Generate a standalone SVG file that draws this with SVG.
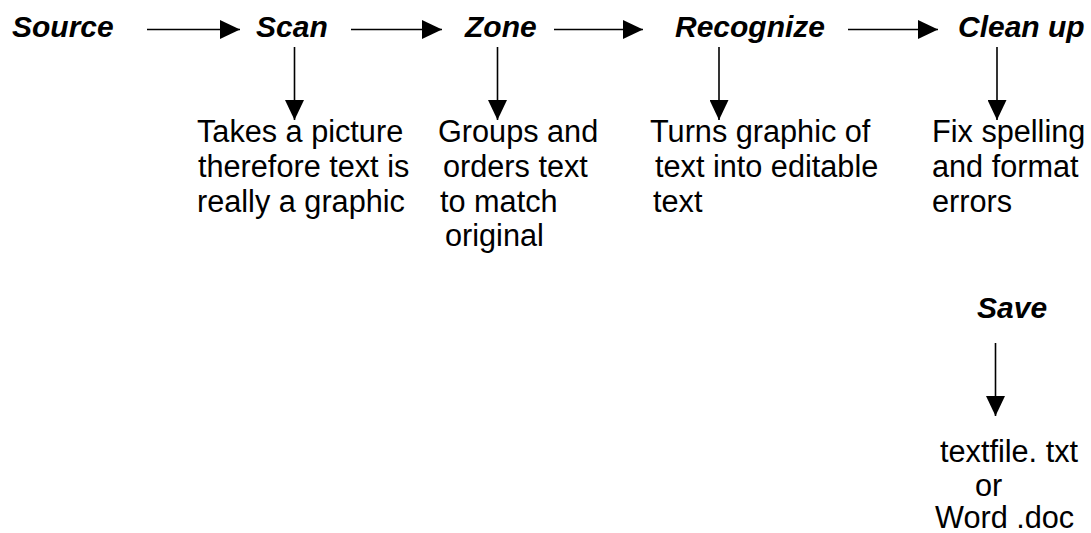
<svg xmlns="http://www.w3.org/2000/svg" width="1091" height="533" viewBox="0 0 1091 533">
  <style>
    .title { font-family: "Liberation Sans", Arial, sans-serif; font-size: 30px; font-weight: bold; font-style: italic; fill: #000; }
    .body { font-family: "Liberation Sans", Arial, sans-serif; font-size: 30.67px; fill: #000; }
    .conn { stroke: #000; stroke-width: 1.6; fill: none; marker-end: url(#arrow); }
  </style>
  <defs>
    <marker id="arrow" markerUnits="userSpaceOnUse" markerWidth="20" markerHeight="19" refX="20" refY="9.5" orient="auto" viewBox="0 0 20 19">
      <path d="M0,0 L20,9.5 L0,19 z" fill="#000"/>
    </marker>
  </defs>
  <rect width="1091" height="533" fill="#fff"/>
  <g id="connectors">
    <line class="conn" x1="147" y1="29.5" x2="240" y2="29.5"/>
    <line class="conn" x1="351" y1="29.5" x2="442" y2="29.5"/>
    <line class="conn" x1="554" y1="29.5" x2="643" y2="29.5"/>
    <line class="conn" x1="848" y1="29.5" x2="938" y2="29.5"/>
    <line class="conn" x1="294.5" y1="47" x2="294.5" y2="120"/>
    <line class="conn" x1="497.5" y1="47" x2="497.5" y2="120"/>
    <line class="conn" x1="719" y1="47" x2="719" y2="120"/>
    <line class="conn" x1="997" y1="47" x2="997" y2="120"/>
    <line class="conn" x1="995.5" y1="343" x2="995.5" y2="416"/>
  </g>
  <g id="source"><text class="title" x="12" y="37">Source</text></g>
  <g id="scan"><text class="title" x="256" y="37">Scan</text></g>
  <g id="zone"><text class="title" x="465" y="37">Zone</text></g>
  <g id="recognize"><text class="title" x="675" y="37">Recognize</text></g>
  <g id="cleanup"><text class="title" x="958" y="37">Clean up</text></g>
  <g id="scan-desc">
    <text class="body" x="197" y="142">Takes a picture</text>
    <text class="body" x="198" y="177">therefore text is</text>
    <text class="body" x="197" y="212">really a graphic</text>
  </g>
  <g id="zone-desc">
    <text class="body" x="438" y="142">Groups and</text>
    <text class="body" x="443" y="177">orders text</text>
    <text class="body" x="440" y="212">to match</text>
    <text class="body" x="445" y="246">original</text>
  </g>
  <g id="recognize-desc">
    <text class="body" x="650" y="142">Turns graphic of</text>
    <text class="body" x="655" y="177">text into editable</text>
    <text class="body" x="653" y="212">text</text>
  </g>
  <g id="cleanup-desc">
    <text class="body" x="932" y="142">Fix spelling</text>
    <text class="body" x="932" y="177">and format</text>
    <text class="body" x="932" y="212">errors</text>
  </g>
  <g id="save"><text class="title" x="977" y="318">Save</text></g>
  <g id="save-desc">
    <text class="body" x="940" y="462">textfile. txt</text>
    <text class="body" x="975" y="496">or</text>
    <text class="body" x="935" y="528">Word .doc</text>
  </g>
</svg>
